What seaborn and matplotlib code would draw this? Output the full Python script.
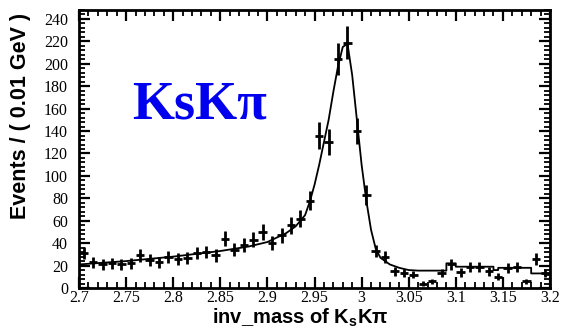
import numpy as np
import pandas as pd
import matplotlib
matplotlib.use("Agg")
import matplotlib.pyplot as plt
from matplotlib.ticker import MultipleLocator, FixedLocator
import seaborn as sns

# ---- data ----
bin_centers = [2.705, 2.715, 2.725, 2.735, 2.745, 2.755, 2.765, 2.775, 2.785, 2.795,
               2.805, 2.815, 2.825, 2.835, 2.845, 2.855, 2.865, 2.875, 2.885, 2.895,
               2.905, 2.915, 2.925, 2.935, 2.945, 2.955, 2.965, 2.975, 2.985, 2.995,
               3.005, 3.015, 3.025, 3.035, 3.045, 3.055, 3.065, 3.075, 3.085, 3.095,
               3.105, 3.115, 3.125, 3.135, 3.145, 3.155, 3.165, 3.175, 3.185, 3.195]
counts = [31, 23, 21, 22, 21, 22, 29, 25, 23, 28,
          26, 27, 31, 32, 29, 44, 34, 38, 43, 50,
          40, 47, 56, 62, 78, 136, 130, 204, 219, 140,
          83, 33, 28, 15, 13, 12, 4, 6, 13, 21,
          14, 19, 19, 15, 10, 18, 19, 6, 26, 13]

fit_x = [2.70, 2.75, 2.80, 2.85, 2.88, 2.90, 2.92, 2.93, 2.94, 2.945, 2.95, 2.955,
         2.96, 2.965, 2.97, 2.975, 2.98, 2.985, 2.99, 2.995, 3.00, 3.005, 3.01,
         3.015, 3.02, 3.03, 3.04, 3.05, 3.06, 3.09, 3.09, 3.10, 3.10, 3.14, 3.14,
         3.145, 3.145, 3.18, 3.18, 3.20]
fit_y = [21, 24, 28, 33, 37, 41, 49, 55, 65, 77, 92, 110,
         130, 150, 175, 198, 215, 218, 190, 150, 110, 78, 52,
         35, 27, 21, 18, 16, 15.5, 15.5, 22, 22, 19, 19, 16,
         16, 18, 18, 13, 13]

x_ticks = [2.7, 2.75, 2.8, 2.85, 2.9, 2.95, 3.0, 3.05, 3.1, 3.15, 3.2]
x_tick_labels = ["2.7", "2.75", "2.8", "2.85", "2.9", "2.95", "3", "3.05", "3.1", "3.15", "3.2"]
y_ticks = list(range(0, 241, 20))

sns.set_theme(style="ticks")
plt.rcParams["font.family"] = ["Liberation Serif", "DejaVu Sans"]
plt.rcParams["mathtext.fontset"] = "custom"
plt.rcParams["mathtext.rm"] = "Liberation Sans:bold"
plt.rcParams["mathtext.bf"] = "Liberation Sans:bold"
plt.rcParams["mathtext.it"] = "Liberation Sans:bold"
plt.rcParams["text.color"] = "black"
plt.rcParams["axes.labelcolor"] = "black"

fig = plt.figure(figsize=(5.62, 3.36), dpi=100)
ax = fig.add_axes([79 / 562, 1 - 288 / 336, (550 - 79) / 562, (288 - 10) / 336])

fit_df = pd.DataFrame({"x": fit_x, "y": fit_y})
sns.lineplot(data=fit_df, x="x", y="y", ax=ax, color="black", lw=1.3,
             sort=False, estimator=None)

cnt = np.array(counts, dtype=float)
ax.errorbar(bin_centers, cnt, yerr=np.sqrt(cnt), xerr=0.0045, fmt="none",
            ecolor="black", elinewidth=2.0, capsize=0)

ax.set_xlim(2.7, 3.2)
ax.set_ylim(0, 248)
ax.xaxis.set_major_locator(FixedLocator(x_ticks))
ax.set_xticklabels(x_tick_labels)
ax.xaxis.set_minor_locator(MultipleLocator(0.01))
ax.yaxis.set_major_locator(FixedLocator(y_ticks))
ax.yaxis.set_minor_locator(MultipleLocator(4))
ax.tick_params(which="both", direction="in", top=True, right=True,
               labelsize=11.5, color="black", labelcolor="black")
ax.tick_params(axis="x", which="both", pad=1.5)
ax.tick_params(axis="y", which="both", pad=8)
ax.tick_params(which="major", length=8, width=1.6)
ax.tick_params(which="minor", length=4, width=1.3)
for s in ax.spines.values():
    s.set_linewidth(2)
    s.set_color("black")

ax.set_xlabel("inv_mass of K$_{\\mathbf{s}}$K\u03c0", family=["Liberation Sans", "DejaVu Sans"],
              fontweight="bold", fontsize=14.5, color="black")
ax.xaxis.set_label_coords(0.469, -0.068)
ax.set_ylabel("Events / ( 0.01 GeV )", family=["Liberation Sans", "DejaVu Sans"],
              fontweight="bold", fontsize=15.5, loc="top", color="black")
ax.yaxis.set_label_coords(-0.102, 0.99)

ax.text(0.255, 0.655, "KsK\u03c0", transform=ax.transAxes, ha="center", va="center",
        family=["Liberation Serif", "DejaVu Serif"], fontweight="bold",
        fontsize=39, color="#0000ee")

fig.savefig("out.png", dpi=100)
